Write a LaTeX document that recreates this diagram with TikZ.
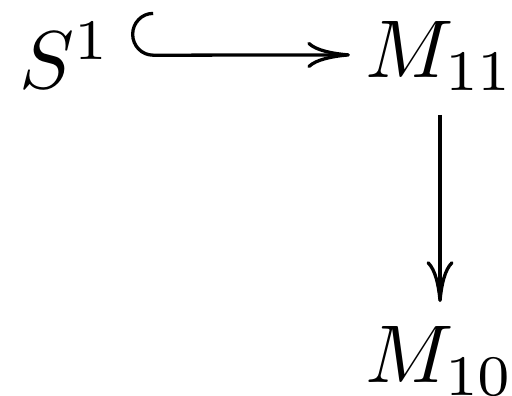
\documentclass[tikz,border=0pt]{standalone}
\usepackage{amsmath, amssymb}
\usetikzlibrary{arrows.meta}

\begin{document}
\begin{tikzpicture}[
    obj/.style={anchor=base west, inner sep=0pt},
    mapto/.style={-{To[length=5pt,width=3.3pt]}},
    hookto/.style={{Hooks[right,arc=180,length=2.7pt,width=10.6pt]}-{To[length=5.2pt,width=3.2pt]}}
  ]
  \useasboundingbox (0,0) rectangle (2.195,1.697);
  \node[obj] (s)   at (0.077,1.316) {$S^1$};
  \node[obj] (m11) at (1.560,1.363) {$M_{11}$};
  \node[obj] (m10) at (1.560,0.056) {$M_{10}$};
  \draw[hookto] ([xshift=2.2pt,yshift=4.1pt]s.base east) -- ([xshift=-1.7pt,yshift=2.8pt]m11.base west);
  \draw[mapto] ([yshift=-2.8pt]m11.south) -- ([yshift=2.8pt]m10.north);
\end{tikzpicture}
\end{document}
